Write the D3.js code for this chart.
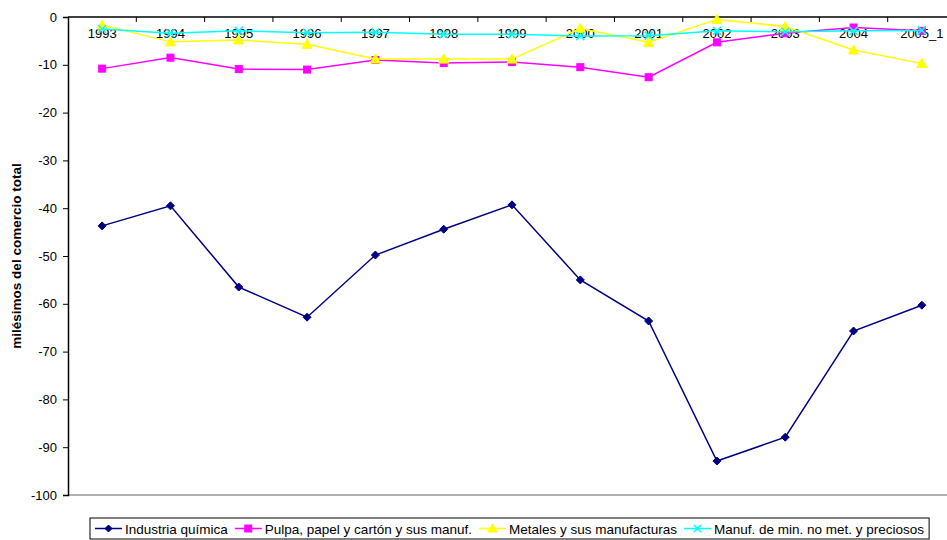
<!DOCTYPE html>
<html>
<head>
<meta charset="utf-8">
<script src="https://cdn.jsdelivr.net/npm/d3@7.9.0/dist/d3.min.js"></script>
<style>
  body { margin: 0; background: #fff; }
  svg { display: block; font-family: "Liberation Sans", Arial, sans-serif; }
</style>
</head>
<body>
<svg id="chart" width="947" height="540"></svg>
<script>
const YEARS = ['1993', '1994', '1995', '1996', '1997', '1998', '1999', '2000', '2001', '2002', '2003', '2004', '2005_1'];

const QUIMICA = [-43.7, -39.5, -56.5, -62.8, -49.8, -44.4, -39.3, -55.0, -63.6, -92.9, -87.9, -65.7, -60.3];
const PULPA = [-10.8, -8.5, -10.9, -11.0, -9.0, -9.6, -9.4, -10.5, -12.6, -5.3, -3.4, -2.2, -2.9];
const METALES = [-1.7, -5.2, -4.8, -5.7, -8.8, -8.8, -8.8, -2.4, -5.3, -0.5, -2.0, -6.9, -9.7];
const MINERALES = [-2.5, -3.4, -2.9, -3.3, -3.2, -3.6, -3.6, -4.0, -3.9, -2.9, -3.1, -2.9, -2.8];

const Y_TICKS = [0, -10, -20, -30, -40, -50, -60, -70, -80, -90, -100];
const Y_TITLE = 'milésimos del comercio total';

const series = [
  { name: 'Industria química', values: QUIMICA, color: '#000080', marker: 'diamond' },
  { name: 'Pulpa, papel y cartón y sus manuf.', values: PULPA, color: '#ff00ff', marker: 'square' },
  { name: 'Metales y sus manufacturas', values: METALES, color: '#ffff00', marker: 'triangle' },
  { name: 'Manuf. de min. no met. y preciosos', values: MINERALES, color: '#00ffff', marker: 'cross' },
];

const svg = d3.select('#chart');
const plotLeft = 68, plotRight = 956, plotTop = 17, plotBottom = 495;

const x = d3.scaleBand().domain(YEARS).range([plotLeft, plotRight]);
const y = d3.scaleLinear().domain([-100, 0]).range([plotBottom, plotTop]);

// bottom gray line of plot area
svg.append('line')
  .attr('x1', plotLeft).attr('x2', 947)
  .attr('y1', plotBottom).attr('y2', plotBottom)
  .attr('stroke', '#999').attr('stroke-width', 1.5);

// y axis
const yAxis = svg.append('g')
  .attr('transform', `translate(${plotLeft},0)`)
  .call(d3.axisLeft(y).tickValues(Y_TICKS).tickSize(5).tickPadding(6).tickFormat(d => String(d)));
yAxis.select('.domain').attr('stroke', '#000').attr('stroke-width', 1.5);
yAxis.selectAll('.tick line').attr('stroke', '#000');
yAxis.selectAll('.tick text').attr('font-size', 13).attr('fill', '#000')
  .attr('font-family', '"Liberation Sans", Arial, sans-serif');

// x axis at value 0 (top)
const xAxis = svg.append('g')
  .attr('transform', `translate(0,${y(0)})`)
  .call(d3.axisBottom(x).tickSize(0).tickPadding(12));
xAxis.select('.domain').remove();
xAxis.selectAll('.tick text').attr('font-size', 13).attr('fill', '#000')
  .attr('font-family', '"Liberation Sans", Arial, sans-serif');
svg.append('line')
  .attr('x1', plotLeft).attr('x2', 947)
  .attr('y1', y(0)).attr('y2', y(0))
  .attr('stroke', '#000').attr('stroke-width', 1.5);
const edges = YEARS.slice(1).map(d => x(d));
svg.append('g').selectAll('line').data(edges).join('line')
  .attr('x1', d => d).attr('x2', d => d)
  .attr('y1', y(0)).attr('y2', y(0) + 5)
  .attr('stroke', '#000');

// y title
svg.append('text')
  .attr('transform', `translate(21,${(plotTop + plotBottom) / 2}) rotate(-90)`)
  .attr('text-anchor', 'middle')
  .attr('font-size', 13.5).attr('font-weight', 'bold')
  .text(Y_TITLE);

const cx = d => x(d) + x.bandwidth() / 2;

function drawMarker(g, type, color, size) {
  const s = size;
  if (type === 'diamond') {
    g.append('path').attr('d', `M0,${-s}L${s},0L0,${s}L${-s},0Z`).attr('fill', color).attr('stroke', color);
  } else if (type === 'square') {
    g.append('rect').attr('x', -s).attr('y', -s).attr('width', 2 * s).attr('height', 2 * s)
      .attr('fill', color).attr('stroke', color);
  } else if (type === 'triangle') {
    g.append('path').attr('d', `M0,${-s - 1}L${s + 1},${s}L${-s - 1},${s}Z`).attr('fill', color).attr('stroke', color);
  } else {
    g.append('path').attr('d', `M${-s},${-s}L${s},${s}M${-s},${s}L${s},${-s}`)
      .attr('stroke', color).attr('stroke-width', 1.5).attr('fill', 'none');
  }
}

const line = d3.line().x((d, i) => cx(YEARS[i])).y(d => y(d));

series.forEach(s => {
  const g = svg.append('g');
  g.append('path')
    .datum(s.values)
    .attr('d', line)
    .attr('fill', 'none')
    .attr('stroke', s.color)
    .attr('stroke-width', 1.5);
  s.values.forEach((v, i) => {
    const m = g.append('g').attr('transform', `translate(${cx(YEARS[i])},${y(v)})`);
    drawMarker(m, s.marker, s.color, s.marker === 'diamond' ? 4 : s.marker === 'square' ? 3.5 : 4);
  });
});

// legend
const legend = svg.append('g');
const box = legend.append('rect')
  .attr('y', 518).attr('height', 21)
  .attr('fill', '#fff').attr('stroke', '#000').attr('stroke-width', 1);
let lx = 95;
series.forEach((s, i) => {
  const g = legend.append('g');
  g.append('line').attr('x1', lx).attr('x2', lx + 27).attr('y1', 528.5).attr('y2', 528.5)
    .attr('stroke', s.color).attr('stroke-width', 1.5);
  const m = g.append('g').attr('transform', `translate(${lx + 13.5},528.5)`);
  drawMarker(m, s.marker, s.color, 3.5);
  const t = g.append('text').attr('x', lx + 30).attr('y', 533.5)
    .attr('font-size', 13.5).text(s.name);
  lx += 30 + t.node().getComputedTextLength() + 7;
});
box.attr('x', 90).attr('width', lx - 7 + 5 - 90);
</script>
</body>
</html>
